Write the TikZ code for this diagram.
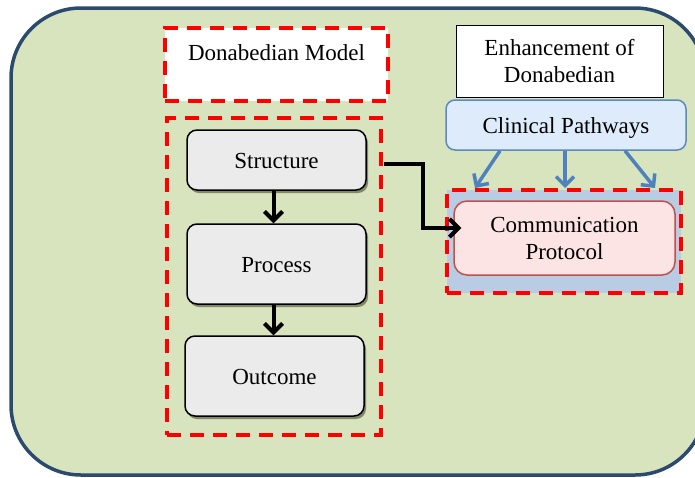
\documentclass[tikz,border=0pt]{standalone}
\usepackage{fontspec}
\setmainfont{Liberation Serif}
\usetikzlibrary{arrows.meta,shadows}
\definecolor{bgout}{HTML}{D7E4BD}
\definecolor{bordout}{HTML}{2B4A6E}
\definecolor{grayfill}{HTML}{EBEBEB}
\definecolor{cpfill}{HTML}{DDEBFB}
\definecolor{cpdraw}{HTML}{5A8AC6}
\definecolor{bluearrow}{HTML}{4F81BD}
\definecolor{bgblue}{HTML}{B8CCE4}
\definecolor{cmfill}{HTML}{FCE4E4}
\definecolor{cmdraw}{HTML}{C0504D}
\begin{document}
\begin{tikzpicture}[x=1pt,y=-1pt,
  every node/.style={font=\fontsize{23}{27}\selectfont, inner sep=0pt, align=center},
  reddash/.style={draw=red, line width=4pt, dash pattern=on 14pt off 9pt},
  graybox/.style={draw=black, line width=1.5pt, fill=grayfill, rounded corners=10pt,
     minimum width=179pt, text height=16pt, text depth=0pt,
     drop shadow={shadow xshift=2pt, shadow yshift=-3pt, fill=black!60!olive, opacity=0.6}},
  blackarrow/.style={line width=4pt, -{Straight Barb[length=9pt,width=18pt,line width=4pt]}},
  bluearr/.style={draw=bluearrow, line width=3.5pt, -{Straight Barb[length=9pt,width=18pt,line width=3.5pt]}}
]
\useasboundingbox (0,0) rectangle (695,477);
\draw[fill=bgout, draw=bordout, line width=3.5pt, rounded corners=70pt] (11,8) rectangle (705,475);

% Donabedian Model
\node[reddash, fill=white, minimum width=223pt, minimum height=73pt, text height=16pt, text depth=25pt] (dm) at (276.5,64.5) {Donabedian Model};
\node[reddash, minimum width=214pt, minimum height=317pt] (lb) at (274,276.5) {};

\node[graybox, minimum height=60pt] (s) at (276.5,160) {Structure};
\node[graybox, minimum height=80pt] (p) at (276.5,264) {Process};
\node[graybox, minimum height=80pt] (o) at (274.5,376) {Outcome};

\draw[blackarrow] ([xshift=-3pt]s.south) -- ([xshift=-3pt]p.north);
\draw[blackarrow] ([xshift=-3pt]p.south) -- ([xshift=-1pt]o.north);

% Enhancement
\node[draw=black, line width=1pt, fill=white, minimum width=207pt, minimum height=72pt] (en) at (559.5,61) {Enhancement of\\Donabedian};
\node[draw=cpdraw, line width=1.5pt, fill=cpfill, rounded corners=9pt, minimum width=240pt, minimum height=50pt, text height=16pt, text depth=0pt] (cp) at (566,125) {Clinical Pathways};

\node[reddash, fill=bgblue, minimum width=234pt, minimum height=103pt] (bg) at (564,241.5) {};
\node[draw=cmdraw, line width=1.5pt, fill=cmfill, rounded corners=13pt, minimum width=221pt, minimum height=74pt, text depth=0pt] (cm) at (564.5,238) {Communication\\Protocol};

\draw[bluearr] ([xshift=-66pt]cp.south) -- ([xshift=-89pt]bg.north);
\draw[bluearr] ([xshift=-1pt]cp.south) -- ([xshift=1pt]bg.north);
\draw[bluearr] ([xshift=59pt]cp.south) -- ([xshift=91pt]bg.north);

\draw[blackarrow, shorten >=-8pt] ([xshift=17pt,yshift=-4pt]s.east) -- ++(39,0) |- ([yshift=10pt]cm.west);
\end{tikzpicture}
\end{document}
